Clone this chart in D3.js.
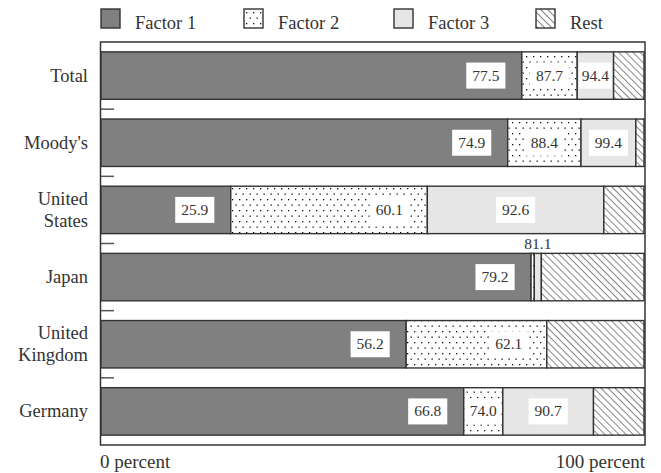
<!DOCTYPE html>
<html><head><meta charset="utf-8">
<script src="https://cdn.jsdelivr.net/npm/d3@7"></script>
<style>
html,body{margin:0;padding:0;background:#fff;}
svg{display:block;font-family:"Liberation Serif","DejaVu Serif",serif;}
</style></head>
<body>
<svg id="chart" width="661" height="473"></svg>
<script>
// ---- data ----
const categories = ["Total", "Moody's", "United States", "Japan", "United Kingdom", "Germany"];
const categoryLines = [["Total"], ["Moody's"], ["United", "States"], ["Japan"], ["United", "Kingdom"], ["Germany"]];
const seriesNames = ["Factor 1", "Factor 2", "Factor 3", "Rest"];
// cumulative end of each segment (percent)
const factor1End = [77.5, 74.9, 23.9, 79.2, 56.2, 66.8];
const factor2End = [87.7, 88.4, 60.1, 79.8, 82.1, 74.0];
const factor3End = [94.4, 98.5, 92.6, 81.1, 82.1, 90.7];
const restEnd = [100, 100, 100, 100, 100, 100];
// printed labels
const factor1Label = ["77.5", "74.9", "25.9", "79.2", "56.2", "66.8"];
const factor2Label = ["87.7", "88.4", "60.1", "", "62.1", "74.0"];
const factor3Label = ["94.4", "99.4", "92.6", "81.1", "", "90.7"];
const axisLabels = ["0 percent", "100 percent"];

const svg = d3.select("#chart");
const defs = svg.append("defs");
const dark = "#333";

// patterns
const dots = defs.append("pattern").attr("id", "dots").attr("patternUnits", "userSpaceOnUse")
  .attr("width", 7).attr("height", 11);
dots.append("rect").attr("width", 7).attr("height", 11).attr("fill", "#fff");
dots.append("rect").attr("x", 1).attr("y", 1).attr("width", 1.3).attr("height", 1.3).attr("fill", "#111");
dots.append("rect").attr("x", 4.5).attr("y", 6.5).attr("width", 1.3).attr("height", 1.3).attr("fill", "#111");

const hatch = defs.append("pattern").attr("id", "hatch").attr("patternUnits", "userSpaceOnUse")
  .attr("width", 5).attr("height", 5).attr("patternTransform", "rotate(-45)");
hatch.append("rect").attr("width", 5).attr("height", 5).attr("fill", "#fff");
hatch.append("line").attr("x1", 0).attr("y1", 0).attr("x2", 0).attr("y2", 5)
  .attr("stroke", "#222").attr("stroke-width", 1.1);

const fills = ["#808080", "url(#dots)", "#e6e6e6", "url(#hatch)"];

const frame = {left: 101, right: 644, top: 42, bottom: 445};
const x = d3.scaleLinear().domain([0, 100]).range([frame.left, frame.right]);
const y = d3.scaleBand().domain(categories).range([frame.top, frame.bottom])
  .paddingInner(0.294).paddingOuter(0.147);

// frame
svg.append("rect").attr("x", frame.left - 0.5).attr("y", frame.top)
  .attr("width", frame.right - frame.left + 1.5).attr("height", frame.bottom - frame.top)
  .attr("fill", "#fff").attr("stroke", dark).attr("stroke-width", 1.5);

// segments
const ends = [factor1End, factor2End, factor3End, restEnd];
const labels = [factor1Label, factor2Label, factor3Label];
const rows = categories.map((c, i) => {
  const segs = [];
  let start = 0;
  ends.forEach((arr, s) => {
    segs.push({cat: c, s, x0: start, x1: arr[i]});
    start = arr[i];
  });
  return segs;
});

const g = svg.append("g");
rows.forEach(segs => {
  g.selectAll(null).data(segs.filter(d => d.x1 > d.x0)).enter().append("rect")
    .attr("x", d => x(d.x0)).attr("y", d => y(d.cat))
    .attr("width", d => x(d.x1) - x(d.x0)).attr("height", y.bandwidth())
    .attr("fill", d => fills[d.s]).attr("stroke", dark).attr("stroke-width", 1.4);
});

// small ticks between bands
const tickYs = categories.slice(1).map(c => y(c) - y.step() * y.paddingInner() / 2);
svg.selectAll(".tk").data(tickYs).enter().append("line")
  .attr("x1", frame.left).attr("x2", frame.left + 13)
  .attr("y1", d => d).attr("y2", d => d)
  .attr("stroke", "#555").attr("stroke-width", 1.5);

// value labels
const fs = 15.5;
rows.forEach((segs, i) => {
  [0, 1, 2].forEach(s => {
    const txt = labels[s][i];
    if (!txt) return;
    const d = segs[s];
    const px0 = x(d.x0), px1 = x(d.x1), w = px1 - px0;
    const cy = y(d.cat) + y.bandwidth() / 2;
    let cx;
    if (s === 0) cx = px1 - 36;
    else if (s === 1) cx = w > 80 ? px1 - 38 : (px0 + px1) / 2;
    else cx = (px0 + px1) / 2;
    if (w < 20) {
      // too thin: put label above the bar
      svg.append("text").attr("x", cx).attr("y", y(d.cat) - 4)
        .attr("text-anchor", "middle").attr("font-size", fs).attr("fill", "#333").text(txt);
      return;
    }
    const lg = svg.append("g");
    const t = lg.append("text").attr("x", cx).attr("y", cy + 5)
      .attr("text-anchor", "middle").attr("font-size", fs).attr("fill", "#333").text(txt);
    const tw = t.node().getComputedTextLength();
    const bw = Math.min(tw + 12, w - 4);
    lg.insert("rect", "text").attr("x", cx - bw / 2).attr("y", cy - 13)
      .attr("width", bw).attr("height", 26).attr("fill", "#fff");
  });
});

// category labels
categoryLines.forEach((lines, i) => {
  const cy = y(categories[i]) + y.bandwidth() / 2;
  const lh = 22;
  const t = svg.append("text").attr("text-anchor", "end").attr("font-size", 18.5).attr("fill", "#333");
  lines.forEach((ln, k) => {
    t.append("tspan").attr("x", 88)
      .attr("y", cy + 6 + (k - (lines.length - 1) / 2) * lh).text(ln);
  });
});

// axis end labels
svg.append("text").attr("x", x(0) - 1).attr("y", 468).attr("font-size", 19).attr("fill", "#333").text(axisLabels[0]);
svg.append("text").attr("x", x(100) + 1).attr("y", 468).attr("text-anchor", "end").attr("font-size", 19).attr("fill", "#333").text(axisLabels[1]);

// legend
const legX = [101, 244, 394, 536];
const lg = svg.append("g");
seriesNames.forEach((n, i) => {
  lg.append("rect").attr("x", legX[i]).attr("y", 9).attr("width", 19).attr("height", 19)
    .attr("fill", fills[i]).attr("stroke", dark).attr("stroke-width", 1.4);
  lg.append("text").attr("x", legX[i] + 34).attr("y", 29).attr("font-size", 18.5).attr("fill", "#333").text(n);
});
</script>
</body></html>
